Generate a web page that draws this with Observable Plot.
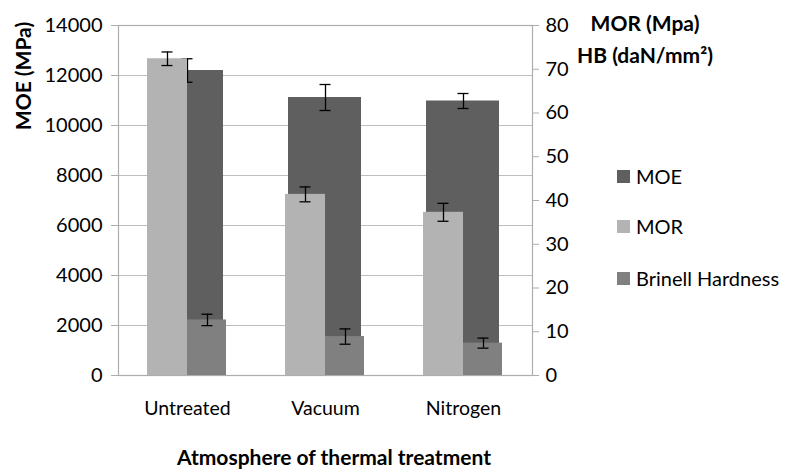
<!DOCTYPE html>
<html><head><meta charset="utf-8">
<script src="https://cdn.jsdelivr.net/npm/d3@7"></script>
<script src="https://cdn.jsdelivr.net/npm/@observablehq/plot@0.6"></script>
<style>
body{margin:0;background:#fff;}
#wrap{position:relative;width:788px;height:470px;font-family:Lato,sans-serif;color:#000;}
.t{position:absolute;white-space:nowrap;line-height:1;}
.b{font-weight:bold;}
.sw{position:absolute;width:13px;height:13px;}
</style></head><body><div id="wrap"></div>
<script>
const categories = ["Untreated", "Vacuum", "Nitrogen"];
const moe = [12200, 11120, 10980];
const moeErr = [470, 520, 300];
const mor = [72.4, 41.4, 37.3];
const morErr = [1.55, 1.7, 2.05];
const hb = [12.7, 8.9, 7.4];
const hbErr = [1.3, 1.75, 1.15];
const leftTicks = [0, 2000, 4000, 6000, 8000, 10000, 12000, 14000];
const rightTicks = [0, 10, 20, 30, 40, 50, 60, 70, 80];
const seriesNames = ["MOE", "MOR", "Brinell Hardness"];
const colors = ["#5f5f5f", "#b3b3b3", "#808080"];

const k = 14000 / 80; // secondary axis (0-80) mapped onto primary (0-14000)
const rows = categories.map((c, i) => ({
  cat: c,
  moe: moe[i], moeLo: moe[i] - moeErr[i], moeHi: moe[i] + moeErr[i],
  mor: mor[i] * k, morLo: (mor[i] - morErr[i]) * k, morHi: (mor[i] + morErr[i]) * k,
  hb: hb[i] * k, hbLo: (hb[i] - hbErr[i]) * k, hbHi: (hb[i] + hbErr[i]) * k
}));

const errMarks = (lo, hi, dx) => [
  Plot.ruleX(rows, {x: "cat", y1: lo, y2: hi, dx, stroke: "#000", strokeWidth: 1.3}),
  Plot.tickY(rows, {x: "cat", y: lo, dx, insetLeft: 63.5, insetRight: 63.5, stroke: "#000", strokeWidth: 1.3}),
  Plot.tickY(rows, {x: "cat", y: hi, dx, insetLeft: 63.5, insetRight: 63.5, stroke: "#000", strokeWidth: 1.3})
];

const plot = Plot.plot({
  width: 788, height: 470,
  marginLeft: 118, marginRight: 256, marginTop: 25, marginBottom: 95,
  style: {fontFamily: "Lato, sans-serif", fontSize: "20px", color: "#000", background: "#fff", overflow: "visible"},
  x: {domain: categories, padding: 0, axis: null},
  y: {domain: [0, 14000], axis: null},
  marks: [
    Plot.ruleY(leftTicks, {stroke: "#bdbdbd", strokeWidth: 1.2}),
    Plot.frame({stroke: "#adadad", strokeWidth: 1.2}),
    Plot.axisY(leftTicks, {anchor: "left", tickSize: 7, tickPadding: 9, stroke: "#adadad", fill: "#000", tickFormat: d => String(d), label: null, fontSize: 20}),
    Plot.axisY(rightTicks.map(v => v * k), {anchor: "right", tickSize: 6, tickPadding: 7, stroke: "#adadad", fill: "#000", tickFormat: d => String(Math.round(d / k)), label: null, fontSize: 20}),
    Plot.axisX({anchor: "bottom", tickSize: 0, tickPadding: 26, fill: "#000", label: null, fontSize: 19.5}),
    Plot.barY(rows, {x: "cat", y: "moe", fill: colors[0], insetLeft: 32, insetRight: 33}),
    ...errMarks("moeLo", "moeHi", 0),
    Plot.barY(rows, {x: "cat", y: "mor", fill: colors[1], insetLeft: 29, insetRight: 69}),
    Plot.barY(rows, {x: "cat", y: "hb", fill: colors[2], insetLeft: 69, insetRight: 30}),
    ...errMarks("morLo", "morHi", -20),
    ...errMarks("hbLo", "hbHi", 20)
  ]
});
const wrap = document.getElementById("wrap");
wrap.appendChild(plot);
plot.style.position = "absolute"; plot.style.left = "0"; plot.style.top = "0";

function addText(txt, cls, css) {
  const d = document.createElement("div");
  d.className = "t " + cls;
  d.textContent = txt;
  Object.assign(d.style, css);
  wrap.appendChild(d);
  return d;
}
addText("MOE (MPa)", "b", {left: "22px", top: "76px", fontSize: "21px", transform: "translate(-50%,-50%) rotate(-90deg)"});
addText("MOR (Mpa)", "b", {left: "645px", top: "12px", fontSize: "21px", transform: "translateX(-50%)"});
addText("HB (daN/mm²)", "b", {left: "645px", top: "44px", fontSize: "21px", transform: "translateX(-50%)"});
addText("Atmosphere of thermal treatment", "b", {left: "334px", top: "446px", fontSize: "21px", transform: "translateX(-50%)"});
const legY = [176, 226, 278];
seriesNames.forEach((n, i) => {
  const s = document.createElement("div");
  s.className = "sw";
  Object.assign(s.style, {left: "617px", top: (legY[i] - 6.5) + "px", background: colors[i]});
  wrap.appendChild(s);
  addText(n, "", {left: "636px", top: (legY[i] - 10.5) + "px", fontSize: "20px"});
});
</script></body></html>
